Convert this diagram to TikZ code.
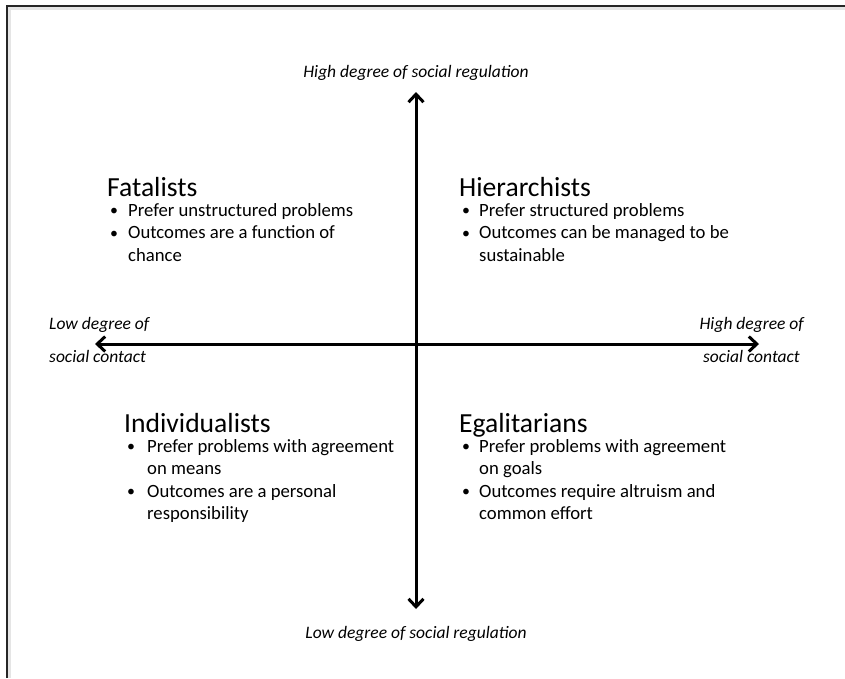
\documentclass[tikz,border=0pt]{standalone}
\usepackage{fontspec}
\setmainfont{Carlito}
\usetikzlibrary{arrows.meta}
\newcommand{\qtitle}{\fontsize{27.6}{33}\selectfont}
\newcommand{\qbul}{\hspace{3pt}\raisebox{0.5pt}{\scalebox{0.85}{\textbullet}}}
\begin{document}
\begin{tikzpicture}[x=1pt,y=-1pt,
  quad/.style={anchor=base west, inner sep=0pt, font=\fontsize{18.7}{22.5}\selectfont},
  lab/.style={inner sep=0pt, font=\fontsize{17.5}{21}\selectfont\itshape},
  axis/.style={line width=3pt, {Straight Barb[length=8pt,width=15pt]}-{Straight Barb[length=8pt,width=15pt]}},
  frame/.style={line width=1.6pt, black!85},
  frameshadow/.style={line width=3pt, black!10}]
\useasboundingbox (0,0) rectangle (845,678);
% frame
\draw[frameshadow] (9.5,678) -- (9.5,8.5) -- (845,8.5);
\draw[frame] (7,678) -- (7,6) -- (845,6);
% axes
\coordinate (top) at (416,92);
\coordinate (bot) at (416,609);
\coordinate (lft) at (95,344);
\coordinate (rgt) at (759,344);
\draw[axis] (bot) -- (top);
\draw[axis] (lft) -- (rgt);
% axis labels
\node[lab, anchor=base] (hr) at (416,77) {High degree of social regulation};
\node[lab, anchor=base] (lr) at (416,638) {Low degree of social regulation};
\node[lab, anchor=base west] (lc1) at (49,329) {Low degree of};
\node[lab, anchor=base west] (lc2) at (49,362) {social contact};
\node[lab, anchor=base east] (hc1) at (804,329) {High degree of};
\node[lab, anchor=base east] (hc2) at (800,362) {social contact};
% quadrants
\node[quad] (fat) at (107,196) {\begin{tabular}[t]{@{}p{21pt}@{}l@{}}
\multicolumn{2}{@{}l@{}}{\qtitle Fatalists}\\[-2.5pt]
\qbul & Prefer unstructured problems\\
\qbul & Outcomes are a function of\\
 & chance
\end{tabular}};
\node[quad] (hier) at (459,196) {\begin{tabular}[t]{@{}p{20pt}@{}l@{}}
\multicolumn{2}{@{}l@{}}{\qtitle Hierarchists}\\[-2.5pt]
\qbul & Prefer structured problems\\
\qbul & Outcomes can be managed to be\\
 & sustainable
\end{tabular}};
\node[quad] (ind) at (124,432) {\begin{tabular}[t]{@{}p{23pt}@{}l@{}}
\multicolumn{2}{@{}l@{}}{\qtitle Individualists}\\[-2.5pt]
\qbul & Prefer problems with agreement\\
 & on means\\
\qbul & Outcomes are a personal\\
 & responsibility
\end{tabular}};
\node[quad] (ega) at (459,432) {\begin{tabular}[t]{@{}p{20pt}@{}l@{}}
\multicolumn{2}{@{}l@{}}{\qtitle Egalitarians}\\[-2.5pt]
\qbul & Prefer problems with agreement\\
 & on goals\\
\qbul & Outcomes require altruism and\\
 & common effort
\end{tabular}};
\end{tikzpicture}
\end{document}
